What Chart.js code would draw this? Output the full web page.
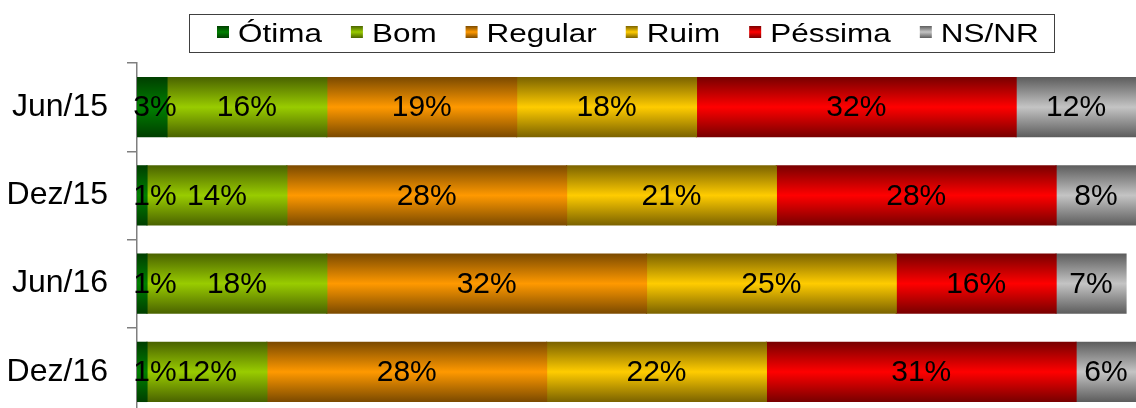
<!DOCTYPE html>
<html lang="pt-BR">
<head>
<meta charset="UTF-8" />
<title>Avaliação</title>
<script src="https://cdn.jsdelivr.net/npm/chart.js@4"></script>
<style>
  html, body { margin: 0; padding: 0; background: #fff; overflow: hidden; }
  .grafico { width: 1136px; height: 416px; }
</style>
</head>
<body>
<div class="grafico"><canvas id="grafico"></canvas></div>

<script>
  // dados da pesquisa (%)
  const periodos = ["Jun/15", "Dez/15", "Jun/16", "Dez/16"];
  const legendas = ["Ótima", "Bom", "Regular", "Ruim", "Péssima", "NS/NR"];
  const otima = [3, 1, 1, 1];
  const bom = [16, 14, 18, 12];
  const regular = [19, 28, 32, 28];
  const ruim = [18, 21, 25, 22];
  const pessima = [32, 28, 16, 31];
  const nsnr = [12, 8, 7, 6];

  const coresClaras = ["#008000", "#99cc00", "#ff9900", "#ffcc00", "#ff0000", "#c4c4c4"];
  const coresEscuras = ["#003f00", "#4b6400", "#7d4b00", "#7d6400", "#7a0000", "#5e5e5e"];

  const fonte = "'Liberation Sans', Arial, sans-serif";
  const larguraBarra = 0.67;

  function gradiente(ctx, topo, base, claro, escuro) {
    const g = ctx.createLinearGradient(0, topo, 0, base);
    g.addColorStop(0, escuro);
    g.addColorStop(0.5, claro);
    g.addColorStop(1, escuro);
    return g;
  }

  // degrade: escuro nas bordas, claro no meio
  function degrade(i) {
    return function (ctx) {
      const chart = ctx.chart;
      const area = chart.chartArea;
      if (!area || ctx.type !== "data") return coresClaras[i];
      const y = chart.scales.y.getPixelForValue(ctx.dataIndex);
      const h = (area.height / periodos.length) * larguraBarra;
      return gradiente(chart.ctx, y - h / 2, y + h / 2, coresClaras[i], coresEscuras[i]);
    };
  }

  function serie(i, valores) {
    return {
      label: legendas[i],
      data: valores,
      backgroundColor: degrade(i),
      borderWidth: 0,
      inflateAmount: 0.6,
      barPercentage: larguraBarra,
      categoryPercentage: 1,
    };
  }

  // porcentagens no meio de cada pedaco
  const rotulos = {
    id: "rotulos",
    afterDatasetsDraw(chart) {
      const ctx = chart.ctx;
      const area = chart.chartArea;
      ctx.save();
      ctx.font = "30px " + fonte;
      ctx.fillStyle = "#000";
      ctx.textAlign = "center";
      ctx.textBaseline = "middle";
      chart.data.datasets.forEach(function (ds, i) {
        chart.getDatasetMeta(i).data.forEach(function (barra, j) {
          let x = (barra.x + barra.base) / 2;
          x = Math.max(x, area.left + 18);
          ctx.fillText(ds.data[j] + "%", x, barra.y + 1);
        });
      });
      ctx.restore();
    },
  };

  // legenda numa linha so, dentro de uma moldura
  const legenda = {
    id: "legenda",
    afterDraw(chart) {
      const ctx = chart.ctx;
      const esticar = 1.21;
      const quadrado = 12;
      const espaco = 9;
      const entreItens = 29;
      const centro = 628;

      ctx.save();
      ctx.font = "26px " + fonte;
      const larguras = chart.data.datasets.map(function (ds) {
        return ctx.measureText(ds.label).width * esticar;
      });
      let total = (quadrado + espaco) * larguras.length + entreItens * (larguras.length - 1);
      larguras.forEach(function (w) { total += w; });

      let x = Math.round(centro - total / 2);
      ctx.strokeStyle = "#404040";
      ctx.lineWidth = 1;
      ctx.strokeRect(x - 28 + 0.5, 14.5, Math.round(total + 43), 38);

      chart.data.datasets.forEach(function (ds, i) {
        ctx.fillStyle = gradiente(ctx, 26, 26 + quadrado, coresClaras[i], coresEscuras[i]);
        ctx.fillRect(x, 26, quadrado, quadrado);
        x += quadrado + espaco;
        ctx.save();
        ctx.translate(x, 42);
        ctx.scale(esticar, 1);
        ctx.fillStyle = "#000";
        ctx.textBaseline = "alphabetic";
        ctx.fillText(ds.label, 0, 0);
        ctx.restore();
        x += larguras[i] + entreItens;
      });
      ctx.restore();
    },
  };

  const data = {
    labels: periodos,
    datasets: [
      serie(0, otima),
      serie(1, bom),
      serie(2, regular),
      serie(3, ruim),
      serie(4, pessima),
      serie(5, nsnr),
    ],
  };

  const config = {
    type: "bar",
    data: data,
    plugins: [rotulos, legenda],
    options: {
      indexAxis: "y",
      responsive: true,
      maintainAspectRatio: false,
      animation: false,
      layout: { padding: { left: 7, right: 0, top: 63, bottom: 0 } },
      plugins: {
        tooltip: { enabled: false },
        legend: { display: false },
      },
      scales: {
        x: {
          stacked: true,
          min: 0,
          max: 100,
          display: false,
        },
        y: {
          stacked: true,
          afterFit: function (escala) {
            escala.width = 130;
            escala.paddingTop = 0;
            escala.paddingBottom = 0;
          },
          border: { display: true, color: "#7f7f7f", width: 1.5 },
          grid: {
            offset: true,
            drawOnChartArea: false,
            drawTicks: true,
            tickLength: 10,
            color: "#7f7f7f",
            lineWidth: 1.5,
          },
          ticks: {
            color: "#000",
            padding: 19,
            font: { family: fonte, size: 32 },
          },
        },
      },
    },
  };

  const grafico = new Chart(document.getElementById("grafico"), config);
</script>
</body>
</html>
